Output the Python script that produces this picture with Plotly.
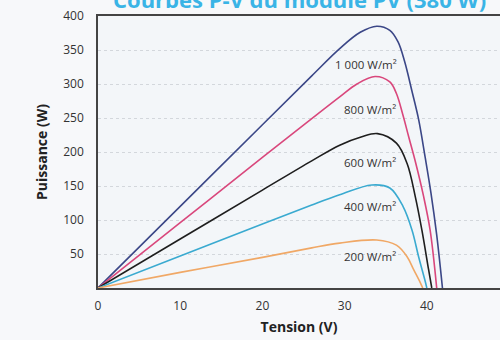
import plotly.graph_objects as go

# Data
irradiance_labels = ["1 000 W/m²", "800 W/m²", "600 W/m²", "400 W/m²", "200 W/m²"]

v_1000 = [0, 10, 20, 26, 29.4, 31.9, 33.9, 35.5, 36.5, 37.3, 38.2, 39.0, 39.8, 40.5, 41.2, 41.9]
p_1000 = [0, 120, 240, 312, 352, 376, 385, 379, 362, 333, 289, 248, 192, 140, 78, 0]

v_800 = [0, 10, 20, 26, 29.4, 31.5, 33.7, 35.5, 36.3, 37.1, 37.8, 38.6, 39.6, 40.4, 41.2]
p_800 = [0, 96, 192, 249, 281, 300, 311, 303, 286, 254, 222, 186, 135, 85, 0]

v_600 = [0, 10, 20, 26, 29.4, 32, 34, 36.3, 37.6, 38.6, 39.4, 40.2, 40.6]
p_600 = [0, 72, 144, 187, 210, 222, 227, 213, 183, 134, 85, 28, 0]

v_400 = [0, 10, 20, 26, 29.4, 33.3, 35.5, 37.1, 38.2, 39.0, 39.8, 40.0]
p_400 = [0, 47, 94, 122, 137, 151.5, 147, 120, 85, 46, 10, 0]

v_200 = [0, 10, 20, 26, 29.4, 33.9, 36.3, 37.6, 38.4, 39.2, 39.5]
p_200 = [0, 23, 45, 59, 66, 70.6, 63, 46, 27, 8, 0]

label_v = [32.6, 33.1, 33.1, 33.1, 33.1]
label_p = [328, 262, 184, 120, 46]

y_ticks = [50, 100, 150, 200, 250, 300, 350, 400]
x_ticks = [0, 10, 20, 30, 40, 50]

colors = ["#3b4787", "#d9477c", "#1e1e1e", "#3aaad0", "#f0a866"]
series = [(v_1000, p_1000), (v_800, p_800), (v_600, p_600), (v_400, p_400), (v_200, p_200)]

fig = go.Figure()
for (v, p), c, name in zip(series, colors, irradiance_labels):
    fig.add_trace(go.Scatter(x=v, y=p, mode="lines", name=name,
                             line=dict(color=c, width=1.6, shape="spline", smoothing=1.0),
                             showlegend=False, hoverinfo="skip"))

for lv, lp, txt in zip(label_v, label_p, irradiance_labels):
    fig.add_annotation(x=lv, y=lp, xref="x", yref="y", text=txt, showarrow=False,
                       font=dict(family="Open Sans", size=11.5, color="#333333"))

fig.add_annotation(x=0.5, xref="paper", y=1 + 17/272, yref="paper",
                   text="<b>Courbes P-V du module PV (380 W)</b>", showarrow=False,
                   yanchor="middle", xanchor="center",
                   font=dict(family="Open Sans", size=22, color="#3ab4e6"))

fig.update_layout(
    width=500, height=340,
    margin=dict(l=98, r=0, t=16, b=52),
    paper_bgcolor="#f7f8fa",
    plot_bgcolor="#f3f6f9",
    font=dict(family="Open Sans", color="#333333"),
    xaxis=dict(range=[0, 48.9], tickvals=x_ticks, showgrid=False, zeroline=False,
               showline=True, linecolor="#444444", linewidth=1.5, mirror=True,
               ticks="", ticklabelstandoff=6,
               tickfont=dict(family="Open Sans", size=12, color="#333333"),
               title=dict(text="<b>Tension (V)</b>", standoff=9,
                          font=dict(family="Open Sans", size=14, color="#222222"))),
    yaxis=dict(range=[0, 400], tickvals=y_ticks, showgrid=True, gridcolor="#d3d7dc",
               griddash="dot", gridwidth=1, zeroline=False,
               showline=True, linecolor="#444444", linewidth=1.5,
               ticks="", ticklabelstandoff=10,
               tickfont=dict(family="Open Sans", size=12, color="#333333"),
               title=dict(text="<b>Puissance (W)</b>", standoff=12,
                          font=dict(family="Open Sans", size=14, color="#222222"))),
)

fig.write_html("out.html", config={"displayModeBar": False},
               post_script="document.body.style.margin='0';document.body.style.padding='0';")
